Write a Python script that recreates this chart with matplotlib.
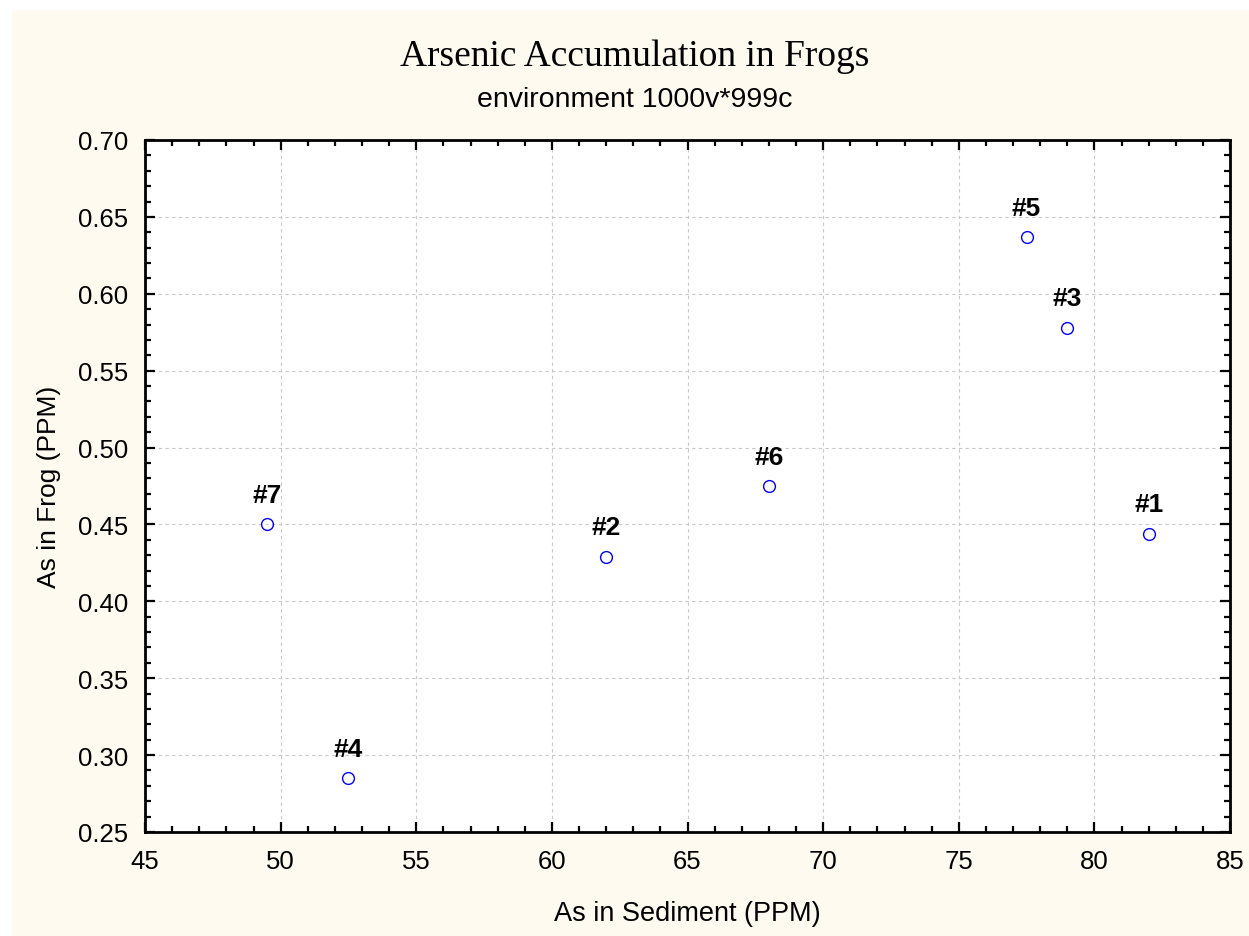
import matplotlib.pyplot as plt
from matplotlib.patches import Rectangle
from matplotlib.ticker import MultipleLocator

# Frog sites: sediment arsenic vs frog tissue arsenic (PPM)
site_labels = ['#1', '#2', '#3', '#4', '#5', '#6', '#7']
sediment_ppm = [82.0, 62.0, 79.0, 52.5, 77.5, 68.0, 49.5]
frog_ppm = [0.444, 0.429, 0.578, 0.285, 0.637, 0.475, 0.450]

W, H = 1249, 937
fig = plt.figure(figsize=(W / 100, H / 100), dpi=100)
fig.patch.set_facecolor('white')
# cream panel behind everything
fig.patches.append(Rectangle((12 / W, 0), 1 - 12 / W, 1 - 11 / H,
                             transform=fig.transFigure, facecolor='#fefaf0',
                             edgecolor='none', zorder=-10))

ax = fig.add_axes([145 / W, 1 - 833 / H, (1230 - 145) / W, (833 - 141) / H])
ax.set_facecolor('white')

ax.plot(sediment_ppm, frog_ppm, 'o', markersize=8.5, markerfacecolor='none',
        markeredgecolor='#0000ff', markeredgewidth=1.0, zorder=3)
for lab, x, y in zip(site_labels, sediment_ppm, frog_ppm):
    ax.annotate(lab, (x, y), xytext=(0, 12.5), textcoords='offset points',
                ha='center', va='bottom', fontsize=19, fontweight='bold',
                family='Liberation Sans')

ax.set_xlim(45, 85)
ax.set_ylim(0.25, 0.70)
ax.xaxis.set_major_locator(MultipleLocator(5))
ax.xaxis.set_minor_locator(MultipleLocator(1))
ax.yaxis.set_major_locator(MultipleLocator(0.05))
ax.yaxis.set_minor_locator(MultipleLocator(0.01))
ax.yaxis.set_major_formatter(plt.FuncFormatter(lambda v, p: f'{v:.2f}'))

ax.tick_params(which='both', direction='in', top=True, right=True, width=1.6)
ax.tick_params(which='major', length=7, pad=12, labelsize=18.5)
ax.tick_params(which='minor', length=4)
for lbl in ax.get_xticklabels() + ax.get_yticklabels():
    lbl.set_family('Liberation Sans')
for sp in ax.spines.values():
    sp.set_linewidth(2.0)

ax.grid(True, which='major', color='#c8c8c8', linestyle=(0, (3, 3)), linewidth=0.8)
ax.set_axisbelow(True)

ax.set_xlabel('As in Sediment (PPM)', fontsize=19.5, family='Liberation Sans', labelpad=20)
ax.set_ylabel('As in Frog (PPM)', fontsize=19, family='Liberation Sans', labelpad=12)

fig.text(635 / W, 1 - 66 / H, 'Arsenic Accumulation in Frogs', ha='center',
         va='baseline', fontsize=27, family='Liberation Serif')
fig.text(635 / W, 1 - 107 / H, 'environment 1000v*999c', ha='center',
         va='baseline', fontsize=20.5, family='Liberation Sans')

fig.savefig('out.png', dpi=100)
